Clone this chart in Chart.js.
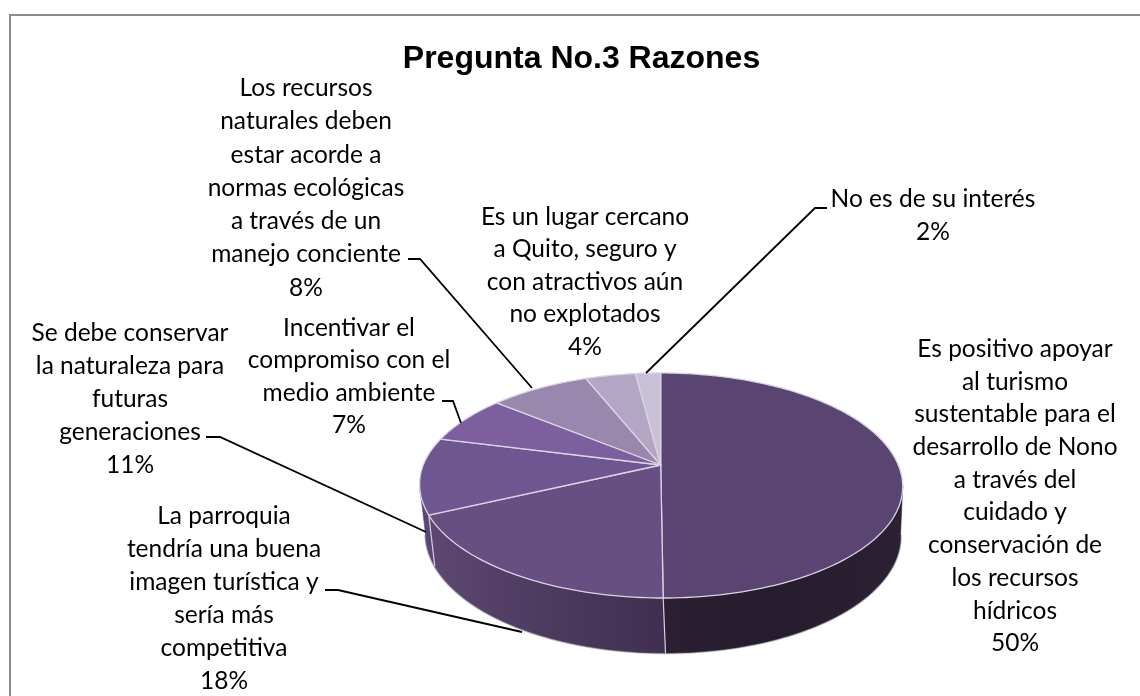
<!DOCTYPE html>
<html lang="es">
<head>
<meta charset="utf-8">
<title>Pregunta No.3 Razones</title>
<script src="https://cdn.jsdelivr.net/npm/chart.js@4"></script>
<style>
html,body{margin:0;padding:0;background:#fff;overflow:hidden}
canvas{display:block}
</style>
</head>
<body>
<canvas id="c" width="1140" height="696"></canvas>
<script>
const chartTitle = "Pregunta No.3 Razones";
const categories = [
  "Es positivo apoyar al turismo sustentable para el desarrollo de Nono a través del cuidado y conservación de los recursos hídricos",
  "La parroquia tendría una buena imagen turística y sería más competitiva",
  "Se debe conservar la naturaleza para futuras generaciones",
  "Incentivar el compromiso con el medio ambiente",
  "Los recursos naturales deben estar acorde a normas ecológicas a través de un manejo conciente",
  "Es un lugar cercano a Quito, seguro y con atractivos aún no explotados",
  "No es de su interés"
];
const values = [50, 18, 11, 7, 8, 4, 2];
const sliceColors = ["#5a4472", "#674f82", "#6e5690", "#7d5fa0", "#9a87ae", "#b2a6c4", "#c8c1d7"];
const wrappedLabels = [
  ["Es positivo apoyar","al turismo","sustentable para el","desarrollo de Nono","a través del","cuidado y","conservación de","los recursos","hídricos"],
  ["La parroquia","tendría una buena","imagen turística y","sería más","competitiva"],
  ["Se debe conservar","la naturaleza para","futuras","generaciones"],
  ["Incentivar el","compromiso con el","medio ambiente"],
  ["Los recursos","naturales deben","estar acorde a","normas ecológicas","a través de un","manejo conciente"],
  ["Es un lugar cercano","a Quito, seguro y","con atractivos aún","no explotados"],
  ["No es de su interés"]
];
// label block layout: centre x, first line middle y, line step
const labelLayout = [
  [1015,349,32.7],[224,516,33],[130,333,33],[349,328,32.5],[306,88,33.3],[585,217,32.5],[933,199,33]
];
const leaderLines = [
  null,
  [[325,590],[338,590],[522,632]],
  [[206,437],[220,437],[426,532]],
  [[442,401],[453,401],[461,423]],
  [[408,259],[420,259],[532,388]],
  null,
  [[827,208],[815,208],[646,373]]
];
// projected disc geometry
const persp = -0.182;
const topDisc = {cx:660.7, cy:465, A:237.5, B:108.8, skew:2.5};
const botDisc = {cx:662.5, cy:513.6, A:233.5, B:114, skew:3};
function project(d, t){
  const u = Math.sin(t), v = -Math.cos(t), w = 1 + persp * v;
  return [d.cx + d.A * u / w + d.skew * Math.max(v,0), d.cy + d.B * v / w];
}
const sideStops = [
  [[664,"#2a2032"],[760,"#251c2d"],[902,"#2b2133"]],
  [[430,"#5e4872"],[520,"#503d63"],[664,"#402f51"]],
  [[418,"#5c4674"],[437,"#5a4572"]]
];
function sidePath(ctx, a, b){
  const n = Math.max(4, Math.ceil((b-a)/0.02));
  ctx.beginPath();
  for(let i=0;i<=n;i++){const p=project(topDisc,a+(b-a)*i/n); i?ctx.lineTo(p[0],p[1]):ctx.moveTo(p[0],p[1]);}
  for(let i=n;i>=0;i--){const p=project(botDisc,a+(b-a)*i/n); ctx.lineTo(p[0],p[1]);}
  ctx.closePath();
}
const pie3d = {
  id:"pie3d",
  beforeDraw(chart){
    const ctx = chart.ctx;
    ctx.save();
    ctx.fillStyle="#fff"; ctx.fillRect(0,0,chart.width,chart.height);
    ctx.strokeStyle="#8c8c8c"; ctx.lineWidth=2;
    ctx.beginPath(); ctx.moveTo(10,chart.height); ctx.lineTo(10,15); ctx.lineTo(chart.width,15); ctx.stroke();
    ctx.restore();
  },
  beforeDatasetDraw(chart){
    const ctx = chart.ctx, arcs = chart.getDatasetMeta(0).data;
    // front-facing range of the rim, between the two silhouette tangents
    const tangent = Math.acos(persp);
    const lo = tangent, hi = 2*Math.PI - tangent;
    ctx.save();
    // soft outline below the side wall
    ctx.beginPath();
    for(let i=0;i<=120;i++){const p=project(botDisc,lo+(hi-lo)*i/120); i?ctx.lineTo(p[0],p[1]):ctx.moveTo(p[0],p[1]);}
    ctx.strokeStyle="#bdb9c2"; ctx.lineWidth=2.5; ctx.stroke();
    // side wall
    arcs.forEach((el,i)=>{
      const s = el.startAngle+Math.PI/2, e = el.endAngle+Math.PI/2;
      const a = Math.max(s,lo), b = Math.min(e,hi);
      if(b<=a) return;
      const stops = sideStops[i];
      const g = ctx.createLinearGradient(stops[0][0],0,stops[stops.length-1][0],0);
      const span = stops[stops.length-1][0]-stops[0][0];
      stops.forEach(st=>g.addColorStop((st[0]-stops[0][0])/span,st[1]));
      sidePath(ctx,a,b);
      ctx.fillStyle=g; ctx.fill();
      ctx.strokeStyle=g; ctx.lineWidth=0.6; ctx.stroke();
    });
    // vertical seams on the wall
    ctx.strokeStyle="#d6cfe0"; ctx.lineWidth=1.2;
    arcs.forEach(el=>{
      const s = el.startAngle+Math.PI/2;
      if(s>=lo && s<hi){
        const p=project(topDisc,s), q=project(botDisc,s);
        ctx.beginPath(); ctx.moveTo(p[0],p[1]); ctx.lineTo(q[0],q[1]); ctx.stroke();
      }
    });
    // top faces
    arcs.forEach(el=>{
      const s = el.startAngle+Math.PI/2, e = el.endAngle+Math.PI/2;
      const n = Math.max(4, Math.ceil((e-s)/0.02));
      ctx.beginPath(); ctx.moveTo(topDisc.cx,topDisc.cy);
      for(let i=0;i<=n;i++){const p=project(topDisc,s+(e-s)*i/n); ctx.lineTo(p[0],p[1]);}
      ctx.closePath();
      ctx.fillStyle=el.options.backgroundColor; ctx.fill();
      ctx.strokeStyle="#d9d3e4"; ctx.lineWidth=1.3; ctx.lineJoin="round"; ctx.stroke();
    });
    ctx.restore();
    return false;
  },
  afterDatasetsDraw(chart){
    const ctx = chart.ctx, ds = chart.data.datasets[0].data;
    const total = ds.reduce((x,y)=>x+y,0);
    ctx.save();
    ctx.strokeStyle="#000"; ctx.lineWidth=1.8; ctx.lineJoin="miter";
    leaderLines.forEach(l=>{
      if(!l) return;
      ctx.beginPath(); l.forEach((p,i)=>i?ctx.lineTo(p[0],p[1]):ctx.moveTo(p[0],p[1])); ctx.stroke();
    });
    ctx.fillStyle="#000"; ctx.textAlign="center"; ctx.textBaseline="middle";
    ctx.font="24.5px Lato";
    wrappedLabels.forEach((lines,i)=>{
      const [x,y,step]=labelLayout[i];
      const all = lines.concat([Math.round(ds[i]/total*100)+"%"]);
      all.forEach((t,j)=>ctx.fillText(t,x,y+j*step));
    });
    ctx.restore();
  }
};
new Chart(document.getElementById("c"),{
  type:"pie",
  data:{labels:categories,datasets:[{data:values,backgroundColor:sliceColors,borderWidth:0}]},
  plugins:[pie3d],
  options:{
    responsive:false,animation:false,rotation:0,
    layout:{padding:{left:23,top:40,right:0,bottom:0}},
    plugins:{
      legend:{display:false},tooltip:{enabled:false},
      title:{display:true,text:chartTitle,color:"#000",align:"center",
        font:{family:"'Liberation Sans'",size:32,weight:"bold"},padding:{top:0,bottom:0}}
    }
  }
});
</script>
</body>
</html>
